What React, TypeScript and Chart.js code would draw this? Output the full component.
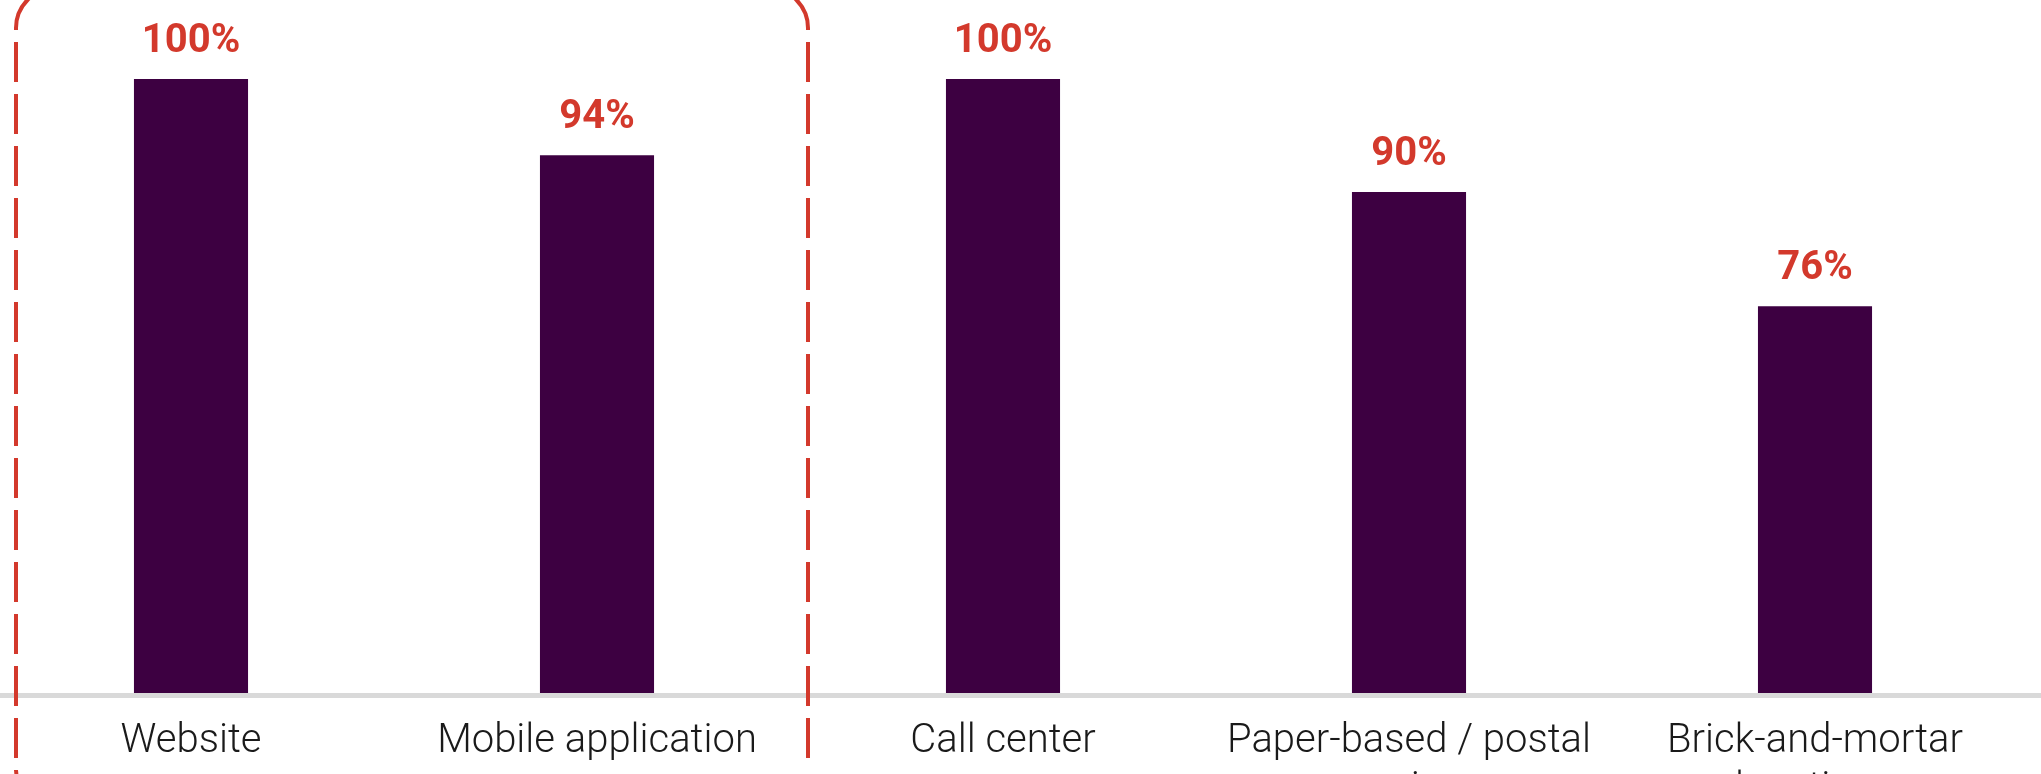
import React, { useEffect, useRef } from "react";
import { Chart, registerables } from "chart.js";

Chart.register(...registerables);

const categories: string[][] = [
  ["Website"],
  ["Mobile application"],
  ["Call center"],
  ["Paper-based / postal", "services"],
  ["Brick-and-mortar", "locations"],
];
const barValues: number[] = [100, 87.6, 100, 81.6, 63.0];
const valueLabels: string[] = ["100%", "94%", "100%", "90%", "76%"];

const BAR_COLOR = "#3D0041";
const RED = "#D3392C";
const CANVAS_LEFT = -12;

export default function App() {
  const ref = useRef<HTMLCanvasElement | null>(null);

  useEffect(() => {
    if (!ref.current) return;

    const overlay = {
      id: "overlay",
      afterDatasetsDraw(chart: any) {
        const ctx = chart.ctx as CanvasRenderingContext2D;
        const area = chart.chartArea;
        // baseline
        ctx.save();
        ctx.strokeStyle = "#D9D9D9";
        ctx.lineWidth = 5;
        ctx.beginPath();
        ctx.moveTo(0, area.bottom + 2.5);
        ctx.lineTo(chart.width, area.bottom + 2.5);
        ctx.stroke();
        ctx.restore();

        // value labels
        const meta = chart.getDatasetMeta(0);
        ctx.save();
        ctx.fillStyle = RED;
        ctx.font = "bold 40px Roboto";
        ctx.textAlign = "center";
        ctx.textBaseline = "alphabetic";
        meta.data.forEach((el: any, i: number) => {
          ctx.fillText(valueLabels[i], el.x, el.y - 27);
        });
        ctx.restore();

        // dashed highlight box around the first two categories
        const xs = chart.scales.x;
        const half = (xs.getPixelForValue(1) - xs.getPixelForValue(0)) / 2;
        const leftX = xs.getPixelForValue(0) - half + 28;
        const rightX = xs.getPixelForValue(1) + half + 8;
        const top = -12;
        const bottom = 810;
        const r = 40;
        ctx.save();
        ctx.strokeStyle = RED;
        ctx.lineWidth = 4;
        ctx.lineCap = "butt";
        ctx.beginPath();
        ctx.arc(leftX + r, top + r, r, Math.PI, 1.5 * Math.PI);
        ctx.stroke();
        ctx.beginPath();
        ctx.arc(rightX - r, top + r, r, 1.5 * Math.PI, 2 * Math.PI);
        ctx.stroke();
        ctx.beginPath();
        ctx.arc(leftX + r, bottom - r, r, 0.5 * Math.PI, Math.PI);
        ctx.stroke();
        ctx.setLineDash([40, 12]);
        ctx.lineDashOffset = 38;
        ctx.beginPath();
        ctx.moveTo(leftX, top + r);
        ctx.lineTo(leftX, bottom - r);
        ctx.stroke();
        ctx.beginPath();
        ctx.moveTo(rightX, top + r);
        ctx.lineTo(rightX, bottom - r);
        ctx.stroke();
        ctx.restore();
      },
    };

    const chart = new Chart(ref.current, {
      type: "bar",
      data: {
        labels: categories,
        datasets: [
          {
            data: barValues,
            backgroundColor: BAR_COLOR,
            borderWidth: 0,
            barPercentage: 0.281,
            categoryPercentage: 1,
          },
        ],
      },
      options: {
        responsive: false,
        animation: false,
        devicePixelRatio: 1,
        layout: { padding: { left: 0, right: 30, top: 79, bottom: 0 } },
        plugins: {
          legend: { display: false },
          tooltip: { enabled: false },
          title: { display: false },
        },
        scales: {
          x: {
            grid: { display: false, drawTicks: false },
            border: { display: false },
            ticks: {
              color: "#1A1A1A",
              font: { family: "Roboto", size: 40, weight: "300", lineHeight: 1.2 },
              padding: 25,
              maxRotation: 0,
              minRotation: 0,
              autoSkip: false,
            },
            afterFit(scale: any) {
              scale.height = 120;
            },
          },
          y: {
            display: false,
            min: 0,
            max: 100,
          },
        },
      },
      plugins: [overlay],
    });

    return () => chart.destroy();
  }, []);

  return (
    <div
      style={{
        position: "absolute",
        left: 0,
        top: 0,
        width: 2041,
        height: 774,
        overflow: "hidden",
        background: "#FFFFFF",
      }}
    >
      <canvas
        ref={ref}
        width={2060}
        height={813}
        style={{ position: "absolute", left: CANVAS_LEFT, top: 0, width: 2060, height: 813 }}
      />
    </div>
  );
}
